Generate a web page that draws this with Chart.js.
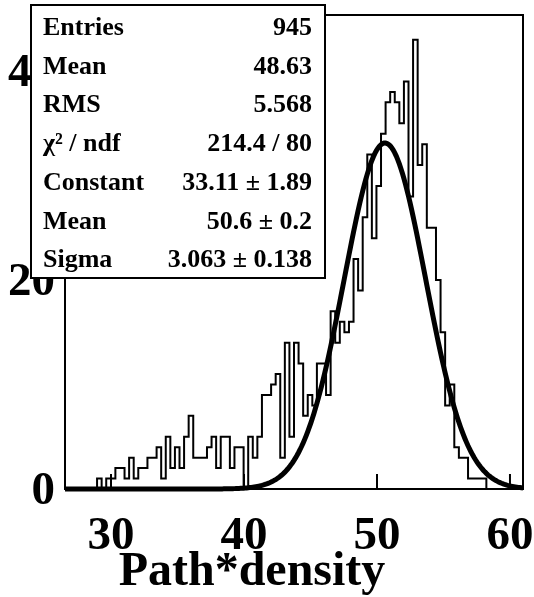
<!DOCTYPE html>
<html>
<head>
<meta charset="utf-8">
<script src="https://cdn.jsdelivr.net/npm/chart.js@4.4.0/dist/chart.umd.min.js"></script>
<style>
  html, body { margin: 0; padding: 0; background: #fff; }
</style>
</head>
<body>
<canvas id="c" width="534" height="597"></canvas>
<script>
// binning of the histogram
const xMin = 26.54;
const xMax = 60.98;
const nBins = 100;

// bin contents, left to right
const counts = [
  0, 0, 0, 0, 0, 0, 0, 1, 0, 1,
  1, 2, 2, 1, 3, 1, 2, 2, 3, 3,
  4, 1, 5, 2, 4, 2, 5, 7, 3, 3,
  3, 4, 5, 2, 5, 5, 2, 4, 4, 0,
  5, 3, 5, 9, 9, 10, 11, 3, 14, 5,
  14, 12, 7, 9, 8, 12, 12, 9, 17, 14,
  16, 15, 16, 22, 19, 26, 32, 24, 29, 34,
  37, 38, 37, 35, 39, 28, 43, 31, 33, 25,
  25, 20, 15, 8, 10, 4, 3, 3, 1, 1,
  1, 1, 0, 0, 0, 0, 0, 0, 0, 0
];

// gaus fit parameters, as printed in the stats box
const fitConstant = 33.11;
const fitMean = 50.6;
const fitSigma = 3.063;

const xTicks = [30, 40, 50, 60];
const yTicks = [0, 20, 40];
const yMax = 45.36;

const statLabels = ['Entries', 'Mean', 'RMS', 'χ² / ndf', 'Constant', 'Mean', 'Sigma'];
const statValues = ['945', '48.63', '5.568', '214.4 / 80', '33.11 ± 1.89', '50.6 ± 0.2', '3.063 ± 0.138'];

const xTitle = 'Path*density';

// histogram outline: one point per left bin edge, stepped
const binW = (xMax - xMin) / nBins;
const histPoints = [{x: xMin, y: 0}];
counts.forEach((c, i) => histPoints.push({x: xMin + i * binW, y: c}));
histPoints.push({x: xMax, y: 0});

// fitted gaussian evaluated across the axis range
const fitPoints = [];
for (let k = 0; k <= 300; k++) {
  const x = xMin + (xMax - xMin) * k / 300;
  fitPoints.push({x: x, y: fitConstant * Math.exp(-0.5 * Math.pow((x - fitMean) / fitSigma, 2))});
}

const serif = '"Liberation Serif", "Times New Roman", serif';

const rootStyle = {
  id: 'rootStyle',
  beforeDatasetsDraw(chart) {
    const {ctx, chartArea: a, scales: {x}} = chart;
    ctx.save();
    ctx.strokeStyle = '#000';
    ctx.lineWidth = 2;
    ctx.strokeRect(a.left, a.top, a.right - a.left, a.bottom - a.top);
    // x ticks point inwards
    xTicks.forEach(v => {
      const px = x.getPixelForValue(v);
      ctx.beginPath();
      ctx.moveTo(px, a.bottom);
      ctx.lineTo(px, a.bottom - 15);
      ctx.stroke();
    });
    ctx.restore();
  },
  afterDraw(chart) {
    const ctx = chart.ctx;
    ctx.save();
    // stats box
    ctx.fillStyle = '#fff';
    ctx.fillRect(31, 5, 294, 273);
    ctx.strokeStyle = '#000';
    ctx.lineWidth = 2;
    ctx.strokeRect(31, 5, 294, 273);
    ctx.fillStyle = '#000';
    ctx.font = 'bold 26px ' + serif;
    ctx.textBaseline = 'alphabetic';
    statLabels.forEach((t, i) => {
      const y = 35 + i * 38.7;
      ctx.textAlign = 'left';
      ctx.fillText(t, 43, y);
      ctx.textAlign = 'right';
      ctx.fillText(statValues[i], 312, y);
    });
    // axis title
    ctx.font = 'bold 48px ' + serif;
    ctx.textAlign = 'center';
    ctx.fillText(xTitle, 252, 585);
    ctx.restore();
  }
};

const tickFont = {family: serif, weight: 'bold', size: 47};

// keep the frame where ROOT put it: no extra room for edge labels
function noPad(s) {
  s.paddingLeft = 0;
  s.paddingRight = 0;
  s.paddingTop = 0;
  s.paddingBottom = 0;
}

new Chart(document.getElementById('c'), {
  type: 'line',
  data: {
    datasets: [
      {
        label: 'gaus',
        data: fitPoints,
        borderColor: '#000',
        borderWidth: 5,
        pointRadius: 0,
        fill: false,
        clip: false,
        order: 0
      },
      {
        label: 'histogram',
        data: histPoints,
        stepped: 'before',
        borderColor: '#000',
        borderWidth: 2,
        pointRadius: 0,
        fill: false,
        order: 1
      }
    ]
  },
  options: {
    responsive: false,
    animation: false,
    devicePixelRatio: 1,
    layout: {padding: {left: 0, top: 15, right: 11, bottom: 0}},
    plugins: {legend: {display: false}, tooltip: {enabled: false}},
    scales: {
      x: {
        type: 'linear',
        min: xMin,
        max: xMax,
        afterBuildTicks: s => { s.ticks = xTicks.map(v => ({value: v})); },
        afterFit: s => { s.height = 108; noPad(s); },
        grid: {display: false, drawTicks: false},
        border: {display: false},
        ticks: {font: tickFont, color: '#000', padding: 20, maxRotation: 0, autoSkip: false}
      },
      y: {
        type: 'linear',
        min: 0,
        max: yMax,
        afterBuildTicks: s => { s.ticks = yTicks.map(v => ({value: v})); },
        afterFit: s => { s.width = 65; noPad(s); },
        grid: {display: false, drawTicks: false},
        border: {display: false},
        ticks: {font: tickFont, color: '#000', padding: 10, labelOffset: 3}
      }
    }
  },
  plugins: [rootStyle]
});
</script>
</body>
</html>
